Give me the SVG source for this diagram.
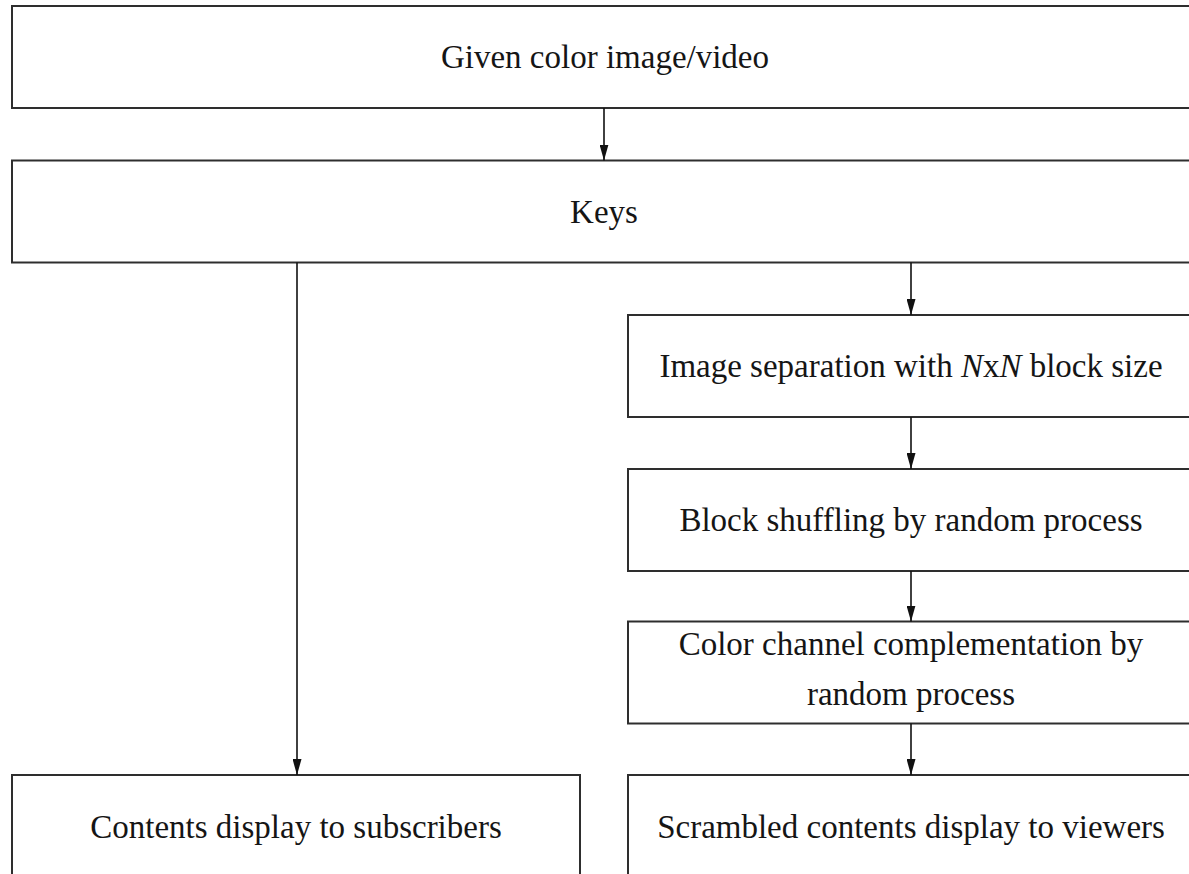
<svg xmlns="http://www.w3.org/2000/svg" width="1189" height="874" viewBox="0 0 1189 874">
  <style>
    .box { fill: #ffffff; stroke: #2e2e2e; stroke-width: 2; }
    .lbl { font-family: "Liberation Serif", "Times New Roman", serif; font-size: 33px; fill: #151515; text-anchor: middle; }
    .conn { stroke: #111111; stroke-width: 1.6; fill: none; marker-end: url(#arrow); }
  </style>
  <defs>
    <marker id="arrow" viewBox="0 0 16 9" refX="16" refY="4.5" markerWidth="16" markerHeight="9" markerUnits="userSpaceOnUse" orient="auto">
      <path d="M0,0 L16,4.5 L0,9 Z" fill="#111111"/>
    </marker>
  </defs>
  <rect x="0" y="0" width="1189" height="874" fill="#ffffff"/>

  <g id="n-given">
    <rect class="box" x="12" y="6" width="1190" height="102"/>
    <text class="lbl" x="605" y="68">Given color image/video</text>
  </g>
  <g id="n-keys">
    <rect class="box" x="12" y="160.5" width="1190" height="102"/>
    <text class="lbl" x="604" y="222.5">Keys</text>
  </g>
  <g id="n-separation">
    <rect class="box" x="628" y="315" width="580" height="102"/>
    <text class="lbl" x="911" y="377">Image separation with <tspan font-style="italic">N</tspan>x<tspan font-style="italic">N</tspan> block size</text>
  </g>
  <g id="n-shuffling">
    <rect class="box" x="628" y="469" width="580" height="102"/>
    <text class="lbl" x="911" y="531">Block shuffling by random process</text>
  </g>
  <g id="n-complement">
    <rect class="box" x="628" y="621.5" width="580" height="102"/>
    <text class="lbl" x="911" y="655">Color channel complementation by</text>
    <text class="lbl" x="911" y="705">random process</text>
  </g>
  <g id="n-subscribers">
    <rect class="box" x="12" y="775" width="568" height="110"/>
    <text class="lbl" x="296" y="838">Contents display to subscribers</text>
  </g>
  <g id="n-viewers">
    <rect class="box" x="628" y="775" width="580" height="110"/>
    <text class="lbl" x="911" y="838">Scrambled contents display to viewers</text>
  </g>

  <g id="connectors">
    <line class="conn" x1="604" y1="108" x2="604" y2="160.5"/>
    <line class="conn" x1="297" y1="262.5" x2="297" y2="775"/>
    <line class="conn" x1="911" y1="262.5" x2="911" y2="315"/>
    <line class="conn" x1="911" y1="417" x2="911" y2="469"/>
    <line class="conn" x1="911" y1="571" x2="911" y2="621.5"/>
    <line class="conn" x1="911" y1="723.5" x2="911" y2="775"/>
  </g>
</svg>
